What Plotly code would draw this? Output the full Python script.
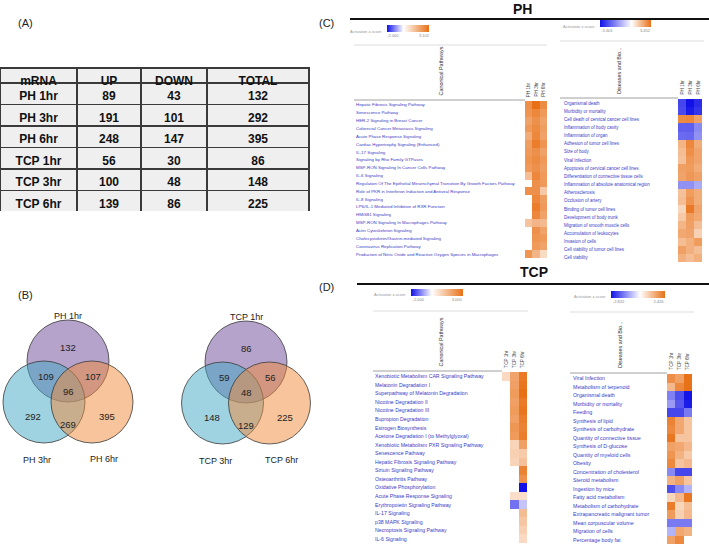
import plotly.graph_objects as go

W, H = 709, 544
def px(x): return x / W
def py(y): return 1 - y / H

FONT = "Liberation Sans, Arial, sans-serif"

# ---------------- (A) table data ----------------
samples = ["PH 1hr", "PH 3hr", "PH 6hr", "TCP 1hr", "TCP 3hr", "TCP 6hr"]
up = [89, 191, 248, 56, 100, 139]
down = [43, 101, 147, 30, 48, 86]
total = [132, 292, 395, 86, 148, 225]
table_header = ["mRNA", "UP", "DOWN", "TOTAL"]

# ---------------- (B) Venn data ----------------
ph_venn_names = ["PH 1hr", "PH 3hr", "PH 6hr"]
ph_venn_counts = {"a": 132, "b": 292, "c": 395, "ab": 109, "ac": 107, "bc": 269, "abc": 96}
tcp_venn_names = ["TCP 1hr", "TCP 3hr", "TCP 6hr"]
tcp_venn_counts = {"a": 86, "b": 148, "c": 225, "ab": 59, "ac": 56, "bc": 129, "abc": 48}

# ---------------- (C) PH heatmaps ----------------
ph_cols = ["PH 1hr", "PH 3hr", "PH 6hr"]
ph_canon_rows = [
    "Hepatic Fibrosis Signaling Pathway", "Senescence Pathway", "HER-2 Signaling in Breast Cancer",
    "Colorectal Cancer Metastasis Signaling", "Acute Phase Response Signaling",
    "Cardiac Hypertrophy Signaling (Enhanced)", "IL-17 Signaling", "Signaling by Rho Family GTPases",
    "MSP-RON Signaling In Cancer Cells Pathway", "IL-6 Signaling",
    "Regulation Of The Epithelial Mesenchymal Transition By Growth Factors Pathway",
    "Role of PKR in Interferon Induction and Antiviral Response", "IL-8 Signaling",
    "LPS/IL-1 Mediated Inhibition of RXR Function", "HMGB1 Signaling",
    "MSP-RON Signaling In Macrophages Pathway", "Actin Cytoskeleton Signaling",
    "Cholecystokinin/Gastrin-mediated Signaling", "Coronavirus Replication Pathway",
    "Production of Nitric Oxide and Reactive Oxygen Species in Macrophages"]
ph_canon_1hr = [2.4, 2.3, 2.0, 2.2, 1.8, 2.1, 2.2, 2.3, 2.2, 1.4, None, 2.4, None, None, None, 1.3, None, None, None, 2.3]
ph_canon_3hr = [3.1, 2.6, 2.4, 2.5, 2.6, 2.8, 2.4, 2.5, 2.4, 2.6, 2.4, 2.4, 2.6, 2.8, 2.6, 1.6, 2.4, 2.3, 2.2, 1.6]
ph_canon_6hr = [2.5, 2.2, 2.0, 2.1, 2.0, 2.3, 2.0, 2.2, 2.1, 2.2, 2.2, 1.2, 2.1, 2.2, 2.0, 1.5, 2.0, 2.2, 2.0, 0.8]
ph_canon_range = (-2.000, 3.102)

ph_dis_rows = [
    "Organismal death", "Morbidity or mortality", "Cell death of cervical cancer cell lines",
    "Inflammation of body cavity", "Inflammation of organ", "Adhesion of tumor cell lines",
    "Size of body", "Viral Infection", "Apoptosis of cervical cancer cell lines",
    "Differentiation of connective tissue cells", "Inflammation of absolute anatomical region",
    "Atherosclerosis", "Occlusion of artery", "Binding of tumor cell lines", "Development of body trunk",
    "Migration of smooth muscle cells", "Accumulation of leukocytes", "Invasion of cells",
    "Cell viability of tumor cell lines", "Cell viability"]
ph_dis_1hr = [-4.4, -4.3, 2.8, -3.8, -3.5, 1.8, 1.6, 1.5, 2.3, 2.2, -2.6, 1.5, 1.6, 1.0, 1.3, 1.8, 2.1, 1.6, 2.3, 1.9]
ph_dis_3hr = [-5.6, -5.4, 2.9, -3.8, -3.6, 2.9, 2.7, 2.5, 2.4, 2.5, -2.6, 2.4, 2.6, 3.2, 2.4, 2.3, 2.2, 1.9, 1.9, 1.6]
ph_dis_6hr = [-5.0, -4.8, 2.3, -2.8, -2.6, 2.0, 2.2, 2.2, 2.0, 2.3, -2.0, 2.0, 2.0, 2.2, 2.1, 1.6, 1.1, 2.4, 1.6, 1.9]
ph_dis_range = (-5.601, 3.452)

# ---------------- (D) TCP heatmaps ----------------
tcp_cols = ["TCP 1hr", "TCP 3hr", "TCP 6hr"]
tcp_canon_rows = [
    "Xenobiotic Metabolism CAR Signaling Pathway", "Melatonin Degradation I",
    "Superpathway of Melatonin Degradation", "Nicotine Degradation II", "Nicotine Degradation III",
    "Bupropion Degradation", "Estrogen Biosynthesis", "Acetone Degradation I (to Methylglyoxal)",
    "Xenobiotic Metabolism PXR Signaling Pathway", "Senescence Pathway",
    "Hepatic Fibrosis Signaling Pathway", "Sirtuin Signaling Pathway", "Osteoarthritis Pathway",
    "Oxidative Phosphorylation", "Acute Phase Response Signaling", "Erythropoietin Signaling Pathway",
    "IL-17 Signaling", "p38 MAPK Signaling", "Necroptosis Signaling Pathway", "IL-6 Signaling"]
tcp_canon_1hr = [0.8, None, None, None, None, None, None, None, None, None, None, None, None, None, None, None, None, None, None, None]
tcp_canon_3hr = [1.9, 2.0, 2.1, 2.0, 2.1, 2.0, 2.2, 2.1, 0.9, 1.0, 0.9, None, None, None, 0.7, -1.2, None, None, None, None]
tcp_canon_6hr = [2.8, 2.9, 3.0, 2.8, 2.9, 2.7, 2.6, 2.7, 2.0, 1.1, 1.3, 2.6, 2.3, -2.0, 0.7, -0.5, 1.4, 1.2, 1.0, 0.8]
tcp_canon_range = (-2.000, 3.000)

tcp_dis_rows = [
    "Viral Infection", "Metabolism of terpenoid", "Organismal death", "Morbidity or mortality",
    "Feeding", "Synthesis of lipid", "Synthesis of carbohydrate", "Quantity of connective tissue",
    "Synthesis of D-glucose", "Quantity of myeloid cells", "Obesity", "Concentration of cholesterol",
    "Steroid metabolism", "Ingestion by mice", "Fatty acid metabolism", "Metabolism of carbohydrate",
    "Extrapancreatic malignant tumor", "Mean corpuscular volume", "Migration of cells",
    "Percentage body fat"]
tcp_dis_1hr = [1.9, 1.2, -1.5, -1.2, -2.2, 2.1, 2.0, 2.3, 1.6, 1.8, 2.0, -1.4, 1.3, -2.1, 0.7, 2.2, 1.7, -1.6, -0.9, 1.6]
tcp_dis_3hr = [1.6, 2.0, -2.1, -2.0, -2.2, 1.5, 1.5, 1.0, 1.5, 1.3, 1.0, -2.2, 1.6, -1.4, 1.2, 0.7, 0.8, -1.6, 1.5, 2.0]
tcp_dis_6hr = [2.4, 2.4, -2.8, -2.7, -1.6, 1.0, 1.0, 1.0, 1.2, 0.9, 1.2, -2.2, 1.0, -0.9, 2.3, 1.1, 1.2, -1.6, 1.3, None]
tcp_dis_range = (-2.820, 2.426)

fig = go.Figure()

# ---------------- table ----------------
fig.add_trace(go.Table(
    domain=dict(x=[0, px(309)], y=[py(212), py(68)]),
    columnwidth=[77, 64, 66, 102],
    header=dict(values=table_header, height=15, fill_color="#efefef",
                line=dict(color="#3a3a3a", width=1.6), align="center",
                font=dict(family=FONT, size=12, color="#111", weight="bold")),
    cells=dict(values=[samples, up, down, total], height=21.5,
               fill_color="#efefef", line=dict(color="#3a3a3a", width=1.2), align="center",
               font=dict(family=FONT, size=12, color="#111", weight="bold")),
))

annotations = []
shapes = []

def label(x, y, text, size=11, color="#222", bold_=False, **kw):
    d = dict(x=px(x), y=py(y), xref="paper", yref="paper", text=text, showarrow=False,
             xanchor="center", yanchor="middle",
             font=dict(family=FONT, size=size, color=color, weight="bold" if bold_ else "normal"))
    d.update(kw)
    annotations.append(d)

label(25, 23, "(A)")
label(25, 295, "(B)")
label(326, 23, "(C)")
label(326, 287, "(D)")

# ---------------- heatmap panels ----------------
BLUE = "rgb(18,18,232)"
ORANGE = "rgb(232,112,22)"

def add_panel(i, rows, cols, series, zr, hx, hy, labx, labfont, header, headx, heady,
              legend_bar, legend_y, sep_x, topline_y, topline_x1):
    zmin, zmax = zr
    w = -zmin / (zmax - zmin)
    z = [list(r) for r in zip(*series)]
    xa = "xaxis" if i == 1 else f"xaxis{i}"
    ya = "yaxis" if i == 1 else f"yaxis{i}"
    xr = "x" if i == 1 else f"x{i}"
    yr = "y" if i == 1 else f"y{i}"
    fig.add_trace(go.Heatmap(
        z=z, x=list(range(len(cols))), y=list(range(len(rows))), zmin=zmin, zmax=zmax,
        colorscale=[[0, BLUE], [w, "rgb(255,255,255)"], [1, ORANGE]],
        xaxis=xr, yaxis=yr, hoverongaps=False,
        colorbar=dict(orientation="h", x=px(legend_bar[0]), xanchor="left",
                      y=py(legend_y), yanchor="middle", lenmode="pixels",
                      len=legend_bar[1] - legend_bar[0], thickness=7, outlinewidth=0,
                      xpad=0, ypad=0, ticks="",
                      tickvals=[zmin + 0.14 * (zmax - zmin), zmax - 0.12 * (zmax - zmin)],
                      ticktext=[f"{zmin:.3f}", f"{zmax:.3f}"],
                      tickfont=dict(family=FONT, size=4, color="#888")),
    ))
    fig.layout[xa] = dict(domain=[px(hx[0]), px(hx[1])], range=[-0.5, len(cols) - 0.5],
                          visible=False, fixedrange=True)
    fig.layout[ya] = dict(domain=[py(hy[1]), py(hy[0])], range=[len(rows) - 0.5, -0.5],
                          visible=False, fixedrange=True)
    for k, r in enumerate(rows):
        annotations.append(dict(x=px(labx), xref="paper", xanchor="left", y=k, yref=yr,
                                yanchor="middle", text=r, showarrow=False,
                                font=dict(family=FONT, size=labfont, color="#3b3bc4")))
    for k, c in enumerate(cols):
        annotations.append(dict(x=k, xref=xr, xanchor="center", y=py(hy[0] - 2), yref="paper",
                                yanchor="bottom", text=c, textangle=-90, showarrow=False,
                                font=dict(family=FONT, size=4.6, color="#444")))
    annotations.append(dict(x=px(headx), xref="paper", xanchor="center", y=py(heady), yref="paper",
                            yanchor="bottom", text=header, textangle=-90, showarrow=False,
                            font=dict(family=FONT, size=5.4, color="#333")))
    annotations.append(dict(x=px(legend_bar[0] - 3), xref="paper", xanchor="right",
                            y=py(legend_y), yref="paper", yanchor="middle", text="Activation z-score",
                            showarrow=False, font=dict(family=FONT, size=4, color="#999")))
    shapes.append(dict(type="line", xref="paper", yref="paper", x0=px(sep_x), x1=px(hx[0]),
                       y0=py(hy[0] - 1), y1=py(hy[0] - 1), line=dict(color="#a0a0a0", width=1)))
    shapes.append(dict(type="line", xref="paper", yref="paper", x0=px(sep_x), x1=px(topline_x1),
                       y0=py(topline_y), y1=py(topline_y), line=dict(color="#dddddd", width=1)))

add_panel(1, ph_canon_rows, ph_cols, [ph_canon_1hr, ph_canon_3hr, ph_canon_6hr], ph_canon_range,
          (525, 547), (101, 258), 354, 4.4, "Canonical Pathways", 440, 98,
          (387, 429), 31, 354, 45, 547)
add_panel(2, ph_dis_rows, ph_cols, [ph_dis_1hr, ph_dis_3hr, ph_dis_6hr], ph_dis_range,
          (678, 702), (99, 262), 562, 4.5, "Diseases and Bio...", 619, 96,
          (600, 651), 26.5, 560, 41, 704)
add_panel(3, tcp_canon_rows, tcp_cols, [tcp_canon_1hr, tcp_canon_3hr, tcp_canon_6hr], tcp_canon_range,
          (502, 527), (372, 543), 373, 5.2, "Canonical Pathways", 440, 369,
          (411, 463), 294.5, 373, 311, 528)
add_panel(4, tcp_dis_rows, tcp_cols, [tcp_dis_1hr, tcp_dis_3hr, tcp_dis_6hr], tcp_dis_range,
          (667, 692), (374, 544), 571, 5.3, "Diseases and Bio...", 620, 370,
          (611, 665), 296.5, 570, 312, 694)

label(522, 9, "PH", size=14, color="#111", bold_=True)
label(534, 272, "TCP", size=14, color="#111", bold_=True)
shapes.append(dict(type="line", xref="paper", yref="paper", x0=px(350), x1=1,
                   y0=py(19), y1=py(19), line=dict(color="#111", width=2)))
shapes.append(dict(type="line", xref="paper", yref="paper", x0=px(357), x1=1,
                   y0=py(284), y1=py(284), line=dict(color="#111", width=2)))

# ---------------- Venn diagrams ----------------
fig.layout["xaxis5"] = dict(domain=[0, px(330)], range=[0, 330], visible=False, fixedrange=True)
fig.layout["yaxis5"] = dict(domain=[py(490), py(300)], range=[490, 300], visible=False, fixedrange=True)
fig.add_trace(go.Scatter(x=[0], y=[300], xaxis="x5", yaxis="y5", mode="markers",
                         marker=dict(opacity=0), hoverinfo="skip", showlegend=False))

VENN_FILL = ["rgba(107,71,151,0.5)", "rgba(63,167,195,0.5)", "rgba(241,137,55,0.5)"]

def venn(cx, cy, dx, dy, r, names, counts):
    centers = [(cx, cy), (cx - dx, cy + dy), (cx + dx, cy + dy)]
    for (x, y), col in zip(centers, VENN_FILL):
        shapes.append(dict(type="circle", xref="x5", yref="y5", x0=x - r, x1=x + r,
                           y0=y - r, y1=y + r, fillcolor=col,
                           line=dict(color="#3a3a3a", width=0.8)))
    pos = {
        "a": (cx, cy - 14), "b": (cx - dx - 11, cy + dy + 14), "c": (cx + dx + 15, cy + dy + 14),
        "ab": (cx - dx / 2 - 10, cy + dy / 2 - 5), "ac": (cx + dx / 2 + 13, cy + dy / 2 - 5),
        "abc": (cx, cy + 30), "bc": (cx, cy + 63),
    }
    for key, (x, y) in pos.items():
        annotations.append(dict(x=x, y=y, xref="x5", yref="y5", text=str(counts[key]),
                                xanchor="center", yanchor="middle",
                                showarrow=False, font=dict(family=FONT, size=9.5, color="#222")))
    npos = [(cx, cy - 45), (cx - dx - 7, cy + dy + 58), (cx + dx + 12, cy + dy + 57)]
    for n, (x, y) in zip(names, npos):
        annotations.append(dict(x=x, y=y, xref="x5", yref="y5", text=n, showarrow=False,
                                xanchor="center", yanchor="middle",
                                font=dict(family=FONT, size=9, color="#222")))

venn(68, 361, 24, 41, 41, ph_venn_names, ph_venn_counts)
venn(246, 362, 23.5, 41, 41, tcp_venn_names, tcp_venn_counts)

fig.update_layout(width=W, height=H, margin=dict(l=0, r=0, t=0, b=0, autoexpand=False),
                  paper_bgcolor="white", plot_bgcolor="white", showlegend=False,
                  annotations=annotations, shapes=shapes)
fig.write_html("out.html", config={"displayModeBar": False},
               post_script="document.body.style.margin='0';document.body.style.padding='0';")
